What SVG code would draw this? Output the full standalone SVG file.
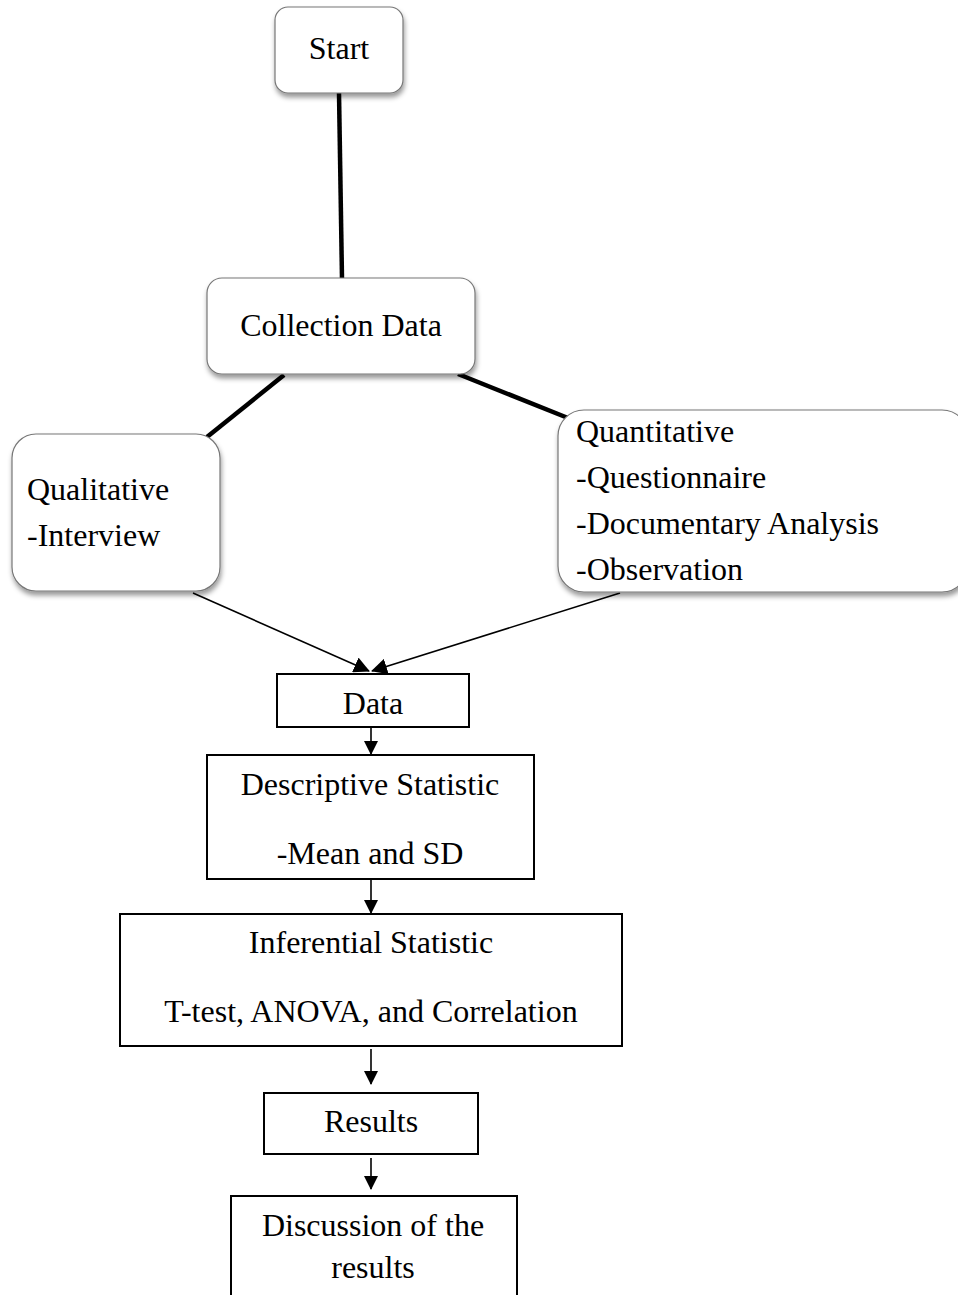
<svg xmlns="http://www.w3.org/2000/svg" width="958" height="1295" viewBox="0 0 958 1295">
<style>
text{font-family:"Liberation Serif","Times New Roman",serif;font-size:32px;fill:#000}
.c{text-anchor:middle}
.rb{fill:#fff;stroke:#777;stroke-width:1.2;filter:url(#sh)}
.sq{fill:#fff;stroke:#000;stroke-width:2}
.thick{stroke:#000;stroke-width:4.5;fill:none}
.thin{stroke:#000;stroke-width:1.6;fill:none;marker-end:url(#ah)}
</style>
<defs>
<filter id="sh" x="-10%" y="-10%" width="130%" height="140%">
<feDropShadow dx="1" dy="4" stdDeviation="2.5" flood-color="#000" flood-opacity="0.4"/>
</filter>
<marker id="ah" viewBox="0 0 14 14" refX="13" refY="7" markerWidth="14" markerHeight="14" markerUnits="userSpaceOnUse" orient="auto">
<path d="M0,0 L14,7 L0,14 Z" fill="#000"/>
</marker>
<marker id="ah2" viewBox="0 0 16 16" refX="15" refY="8" markerWidth="16" markerHeight="16" markerUnits="userSpaceOnUse" orient="auto">
<path d="M0,0 L16,8 L0,16 Z" fill="#000"/>
</marker>
</defs>
<g id="connectors">
<line class="thick" x1="339" y1="93" x2="342" y2="279"/>
<line class="thick" x1="284" y1="375" x2="207" y2="437"/>
<line class="thick" x1="458" y1="374" x2="568" y2="418"/>
<line class="thin" style="marker-end:url(#ah2)" x1="193" y1="593" x2="369" y2="671"/>
<line class="thin" style="marker-end:url(#ah2)" x1="620" y1="593" x2="372" y2="671"/>
<line class="thin" x1="371" y1="727" x2="371" y2="754"/>
<line class="thin" x1="371" y1="880" x2="371" y2="913"/>
<line class="thin" x1="371" y1="1049" x2="371" y2="1084"/>
<line class="thin" x1="371" y1="1158" x2="371" y2="1189"/>
</g>
<g id="start">
<rect class="rb" x="275" y="7" width="128" height="86" rx="13"/>
<text class="c" x="339" y="59">Start</text>
</g>
<g id="collection">
<rect class="rb" x="207" y="278" width="268" height="96" rx="15"/>
<text class="c" x="341" y="336">Collection Data</text>
</g>
<g id="qualitative">
<rect class="rb" x="12" y="434" width="208" height="157" rx="24"/>
<text x="27" y="500">Qualitative</text>
<text x="27" y="546">-Interview</text>
</g>
<g id="quantitative">
<rect class="rb" x="558" y="410" width="410" height="182" rx="26"/>
<text x="576" y="442">Quantitative</text>
<text x="576" y="488">-Questionnaire</text>
<text x="576" y="534">-Documentary Analysis</text>
<text x="576" y="580">-Observation</text>
</g>
<g id="data">
<rect class="sq" x="277" y="674" width="192" height="53"/>
<text class="c" x="373" y="714">Data</text>
</g>
<g id="descriptive">
<rect class="sq" x="207" y="755" width="327" height="124"/>
<text class="c" x="370" y="795">Descriptive Statistic</text>
<text class="c" x="370" y="864">-Mean and SD</text>
</g>
<g id="inferential">
<rect class="sq" x="120" y="914" width="502" height="132"/>
<text class="c" x="371" y="953">Inferential Statistic</text>
<text class="c" x="371" y="1022">T-test, ANOVA, and Correlation</text>
</g>
<g id="results">
<rect class="sq" x="264" y="1093" width="214" height="61"/>
<text class="c" x="371" y="1132">Results</text>
</g>
<g id="discussion">
<rect class="sq" x="231" y="1196" width="286" height="110"/>
<text class="c" x="373" y="1236">Discussion of the</text>
<text class="c" x="373" y="1278">results</text>
</g>
</svg>
